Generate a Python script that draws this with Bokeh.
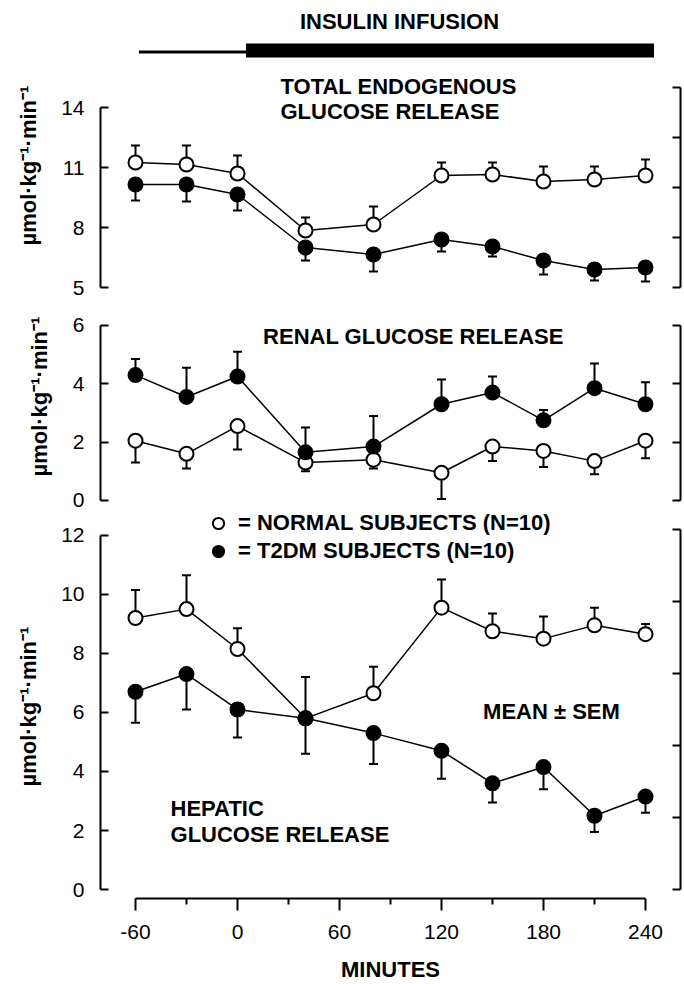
from bokeh.plotting import figure
from bokeh.layouts import column
from bokeh.models import (Range1d, LinearAxis, FixedTicker, Whisker, TeeHead,
                          ColumnDataSource, Label, Legend, LegendItem, Title)
from bokeh.embed import file_html
from bokeh.resources import INLINE

# ---------------- data ----------------
minutes = [-60, -30, 0, 40, 80, 120, 150, 180, 210, 240]

total_normal = [11.25, 11.15, 10.7, 7.85, 8.15, 10.6, 10.65, 10.3, 10.4, 10.6]
total_normal_sem = [0.85, 0.95, 0.9, 0.65, 0.9, 0.65, 0.6, 0.75, 0.65, 0.8]
total_t2dm = [10.15, 10.15, 9.65, 7.0, 6.65, 7.4, 7.05, 6.35, 5.9, 6.0]
total_t2dm_sem = [0.8, 0.85, 0.8, 0.65, 0.85, 0.6, 0.5, 0.7, 0.55, 0.7]

renal_normal = [2.05, 1.6, 2.55, 1.3, 1.4, 0.95, 1.85, 1.7, 1.35, 2.05]
renal_normal_sem = [0.75, 0.5, 0.8, 0.3, 0.3, 0.9, 0.5, 0.55, 0.45, 0.6]
renal_t2dm = [4.3, 3.55, 4.25, 1.65, 1.85, 3.3, 3.7, 2.75, 3.85, 3.3]
renal_t2dm_sem = [0.55, 1.0, 0.85, 0.85, 1.05, 0.85, 0.55, 0.35, 0.85, 0.75]

hepatic_normal = [9.2, 9.5, 8.15, 5.8, 6.65, 9.55, 8.75, 8.5, 8.95, 8.65]
hepatic_normal_sem = [0.95, 1.15, 0.7, 1.4, 0.9, 0.95, 0.6, 0.75, 0.6, 0.35]
hepatic_t2dm = [6.7, 7.3, 6.1, 5.8, 5.3, 4.7, 3.6, 4.15, 2.5, 3.15]
hepatic_t2dm_sem = [1.05, 1.2, 0.95, 1.2, 1.05, 0.95, 0.65, 0.75, 0.55, 0.55]

basal_period = [-58, 5]
infusion_period = [5, 245]

x_ticks = [-60, 0, 60, 120, 180, 240]
x_minor_ticks = [-30, 30, 90, 150, 210]
x_tick_labels = {-60: "-60", 0: "0", 60: "60", 120: "120", 180: "180", 240: "240"}
total_ticks = [5, 8, 11, 14]
renal_ticks = [0, 2, 4, 6]
hepatic_ticks = [0, 2, 4, 6, 8, 10, 12]
total_right_ticks = [5, 7.5, 10, 12.5, 15]
renal_right_ticks = [0, 2, 4, 6]
hepatic_right_ticks = [0, 2.44, 4.88, 7.32, 9.76, 12.2]

y_label = "µmol·kg⁻¹·min⁻¹"
normal_label = "= NORMAL SUBJECTS (N=10)"
t2dm_label = "= T2DM SUBJECTS (N=10)"

FONT = "Liberation Sans"
W = 684
x_range = Range1d(-80.59, 260.59)


def make_fig(height, y0, y1, mbt, mbb):
    p = figure(width=W, height=height, x_range=x_range, y_range=Range1d(y0, y1),
               output_backend="svg", toolbar_location=None,
               x_axis_location=None, y_axis_location=None,
               min_border_left=100, min_border_right=4,
               min_border_top=mbt, min_border_bottom=mbb)
    p.grid.visible = False
    p.outline_line_color = None
    p.background_fill_color = "white"
    p.border_fill_color = "white"
    return p


def add_y_axes(p, ticks, bounds, rticks, rbounds, label_offset):
    la = LinearAxis(ticker=FixedTicker(ticks=ticks, minor_ticks=[]), bounds=bounds,
                    axis_line_width=2, axis_line_color="black",
                    major_tick_in=8, major_tick_out=0, major_tick_line_width=2,
                    minor_tick_in=0, minor_tick_out=0,
                    major_label_standoff=16, major_label_text_font=FONT,
                    major_label_text_font_size="21px", major_label_text_color="black")
    p.add_layout(la, "left")
    p.add_layout(Title(text=y_label, align="left", offset=label_offset,
                       vertical_align="top", standoff=31,
                       text_font=FONT, text_font_size="22px", text_font_style="bold",
                       text_color="black"), "left")
    ra = LinearAxis(ticker=FixedTicker(ticks=rticks, minor_ticks=[]), bounds=rbounds,
                    major_label_overrides={t: "" for t in rticks},
                    axis_line_width=2, axis_line_color="black",
                    major_tick_in=8, major_tick_out=0, major_tick_line_width=2,
                    minor_tick_in=0, minor_tick_out=0,
                    major_label_standoff=0, major_label_text_font_size="1px")
    p.add_layout(ra, "right")


def add_series(p, normal, normal_sem, normal_up, t2dm, t2dm_sem, t2dm_up):
    for vals, sems, up in ((normal, normal_sem, normal_up), (t2dm, t2dm_sem, t2dm_up)):
        if up:
            lo = list(vals)
            hi = [v + s for v, s in zip(vals, sems)]
        else:
            lo = [v - s for v, s in zip(vals, sems)]
            hi = list(vals)
        src = ColumnDataSource(dict(x=minutes, lower=lo, upper=hi))
        head = TeeHead(size=9, line_width=2, line_color="black")
        w = Whisker(source=src, base="x", lower="lower", upper="upper",
                    dimension="height", level="underlay",
                    line_color="black", line_width=2,
                    upper_head=head if up else None,
                    lower_head=None if up else head)
        p.add_layout(w)
    p.line(minutes, normal, line_color="black", line_width=1.5)
    p.line(minutes, t2dm, line_color="black", line_width=1.5)
    rn = p.scatter(minutes, normal, marker="circle", size=14, fill_color="white",
                   line_color="black", line_width=2)
    rt = p.scatter(minutes, t2dm, marker="circle", size=14, fill_color="black",
                   line_color="black", line_width=2)
    return rn, rt


def add_text(p, x, y, text, align="left", size="22px"):
    p.add_layout(Label(x=x, y=y, text=text, text_font=FONT, text_font_size=size,
                       text_font_style="bold", text_align=align,
                       text_baseline="middle", text_color="black"))


# ---------------- top panel: total endogenous ----------------
p1 = make_fig(297, 4.85, 19.35, 0, 7)
add_y_axes(p1, total_ticks, (5, 14), total_right_ticks, (5, 15), 45)
add_series(p1, total_normal, total_normal_sem, True, total_t2dm, total_t2dm_sem, False)
p1.line(basal_period, [16.775, 16.775], line_color="black", line_width=3, line_cap="butt")
p1.line(infusion_period, [16.85, 16.85], line_color="black", line_width=14, line_cap="butt")
add_text(p1, 95.3, 18.3, "INSULIN INFUSION", align="center")
add_text(p1, 25.3, 15.05, "TOTAL ENDOGENOUS")
add_text(p1, 25.3, 13.8, "GLUCOSE RELEASE")

# ---------------- middle panel: renal ----------------
p2 = make_fig(213, -0.103, 6.514, 13, 7)
add_y_axes(p2, renal_ticks, (0, 6), renal_right_ticks, (0, 6), 27)
add_series(p2, renal_normal, renal_normal_sem, False, renal_t2dm, renal_t2dm_sem, True)
add_text(p2, 103.5, 5.62, "RENAL GLUCOSE RELEASE", align="center")

# ---------------- bottom panel: hepatic ----------------
p3 = make_fig(474, -0.303, 12.841, 0, 84)
add_y_axes(p3, hepatic_ticks, (0, 12), hepatic_right_ticks, (0, 12.2), 112)
rn, rt = add_series(p3, hepatic_normal, hepatic_normal_sem, True,
                    hepatic_t2dm, hepatic_t2dm_sem, False)
xa = LinearAxis(ticker=FixedTicker(ticks=x_ticks, minor_ticks=x_minor_ticks),
                bounds=(-60, 240), axis_label="MINUTES",
                major_label_overrides=x_tick_labels,
                axis_line_width=2, axis_line_color="black",
                major_tick_in=0, major_tick_out=12, major_tick_line_width=2,
                minor_tick_in=0, minor_tick_out=6, minor_tick_line_width=2,
                major_label_standoff=14, major_label_text_font=FONT,
                major_label_text_font_size="21px", major_label_text_color="black",
                axis_label_standoff=15, axis_label_text_font=FONT,
                axis_label_text_font_size="22px", axis_label_text_font_style="bold",
                axis_label_text_color="black")
p3.add_layout(xa, "below")
add_text(p3, 184.7, 6.03, "MEAN ± SEM", align="center")
add_text(p3, -39.4, 2.76, "HEPATIC")
add_text(p3, -39.4, 1.85, "GLUCOSE RELEASE")

legend = Legend(items=[LegendItem(label=normal_label, renderers=[rn]),
                       LegendItem(label=t2dm_label, renderers=[rt])],
                location=(104, 333), orientation="vertical",
                glyph_width=28, glyph_height=28, label_standoff=6,
                padding=0, spacing=0, margin=0,
                border_line_color=None, background_fill_alpha=0,
                label_text_font=FONT, label_text_font_style="bold",
                label_text_font_size="22px", label_text_color="black")
p3.add_layout(legend)

layout = column(p1, p2, p3, spacing=0)

open("out.html", "w").write(file_html(layout, INLINE))
